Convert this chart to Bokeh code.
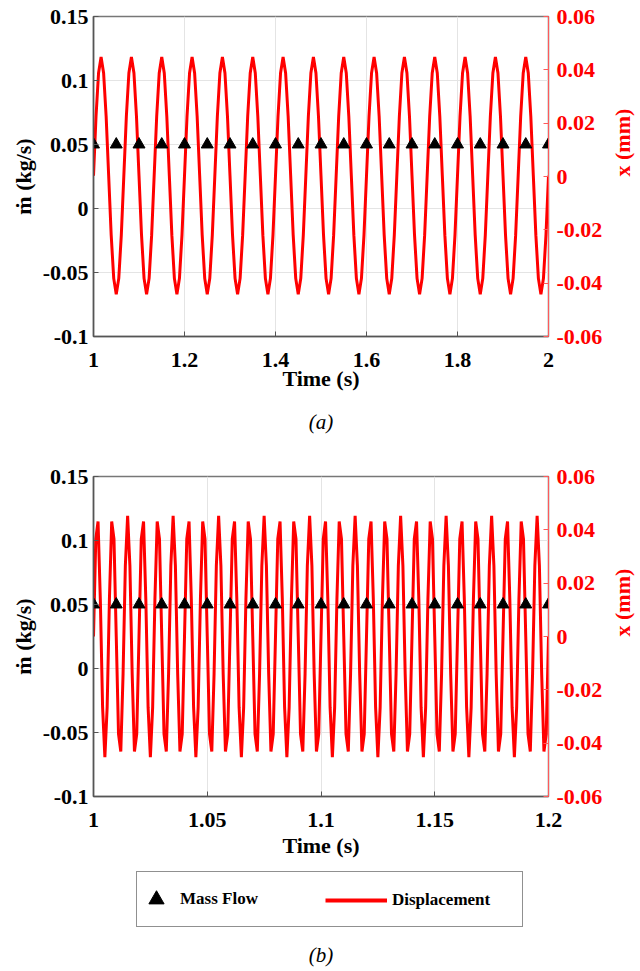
import numpy as np
from bokeh.plotting import figure
from bokeh.models import (Range1d, LinearAxis, FixedTicker, Title, Legend,
                          LegendItem)
from bokeh.layouts import column
from bokeh.embed import file_html
from bokeh.resources import INLINE

FONT = "Liberation Serif"

# ---------------- data ----------------
# panel (a): 1 s record
t_a_start, t_a_end = 1.0, 2.0
disp_a = [
    0.0003, 0.0226, 0.0388, 0.0448, 0.0388, 0.0226, 0.0003, -0.0220, -0.0382, -0.0442, -0.0382, -0.0220,
    0.0003, 0.0226, 0.0388, 0.0448, 0.0388, 0.0226, 0.0003, -0.0220, -0.0382, -0.0442, -0.0382, -0.0220,
    0.0003, 0.0226, 0.0388, 0.0448, 0.0388, 0.0226, 0.0003, -0.0220, -0.0382, -0.0442, -0.0382, -0.0220,
    0.0003, 0.0226, 0.0388, 0.0448, 0.0388, 0.0226, 0.0003, -0.0220, -0.0382, -0.0442, -0.0382, -0.0220,
    0.0003, 0.0226, 0.0388, 0.0448, 0.0388, 0.0226, 0.0003, -0.0220, -0.0382, -0.0442, -0.0382, -0.0220,
    0.0003, 0.0226, 0.0388, 0.0448, 0.0388, 0.0226, 0.0003, -0.0220, -0.0382, -0.0442, -0.0382, -0.0220,
    0.0003, 0.0226, 0.0388, 0.0448, 0.0388, 0.0226, 0.0003, -0.0220, -0.0382, -0.0442, -0.0382, -0.0220,
    0.0003, 0.0226, 0.0388, 0.0448, 0.0388, 0.0226, 0.0003, -0.0220, -0.0382, -0.0442, -0.0382, -0.0220,
    0.0003, 0.0226, 0.0388, 0.0448, 0.0388, 0.0226, 0.0003, -0.0220, -0.0382, -0.0442, -0.0382, -0.0220,
    0.0003, 0.0226, 0.0388, 0.0448, 0.0388, 0.0226, 0.0003, -0.0220, -0.0382, -0.0442, -0.0382, -0.0220,
    0.0003, 0.0226, 0.0388, 0.0448, 0.0388, 0.0226, 0.0003, -0.0220, -0.0382, -0.0442, -0.0382, -0.0220,
    0.0003, 0.0226, 0.0388, 0.0448, 0.0388, 0.0226, 0.0003, -0.0220, -0.0382, -0.0442, -0.0382, -0.0220,
    0.0003, 0.0226, 0.0388, 0.0448, 0.0388, 0.0226, 0.0003, -0.0220, -0.0382, -0.0442, -0.0382, -0.0220,
    0.0003, 0.0226, 0.0388, 0.0448, 0.0388, 0.0226, 0.0003, -0.0220, -0.0382, -0.0442, -0.0382, -0.0220,
    0.0003, 0.0226, 0.0388, 0.0448, 0.0388, 0.0226, 0.0003, -0.0220, -0.0382, -0.0442, -0.0382, -0.0220,
    0.0003,
]
mass_t_a = [1.00, 1.05, 1.10, 1.15, 1.20, 1.25, 1.30, 1.35, 1.40, 1.45, 1.50,
            1.55, 1.60, 1.65, 1.70, 1.75, 1.80, 1.85, 1.90, 1.95, 2.00]
mass_a = [0.05, 0.05, 0.05, 0.05, 0.05, 0.05, 0.05, 0.05, 0.05, 0.05, 0.05,
          0.05, 0.05, 0.05, 0.05, 0.05, 0.05, 0.05, 0.05, 0.05, 0.05]
xticks_a = [1.0, 1.2, 1.4, 1.6, 1.8, 2.0]
xlabels_a = ["1", "1.2", "1.4", "1.6", "1.8", "2"]

# panel (b): 0.2 s record (1 ms samples)
t_b_start, t_b_end = 1.0, 1.2
disp_b = [
    0.0, 0.0366, 0.0431, 0.0140, -0.0266, -0.0453, -0.0266, 0.0140, 0.0431, 0.0366,
    0.0, -0.0366, -0.0431, -0.0140, 0.0266, 0.0453, 0.0266, -0.0140, -0.0431, -0.0366,
    0.0, 0.0366, 0.0431, 0.0140, -0.0266, -0.0453, -0.0266, 0.0140, 0.0431, 0.0366,
    0.0, -0.0366, -0.0431, -0.0140, 0.0266, 0.0453, 0.0266, -0.0140, -0.0431, -0.0366,
    0.0, 0.0366, 0.0431, 0.0140, -0.0266, -0.0453, -0.0266, 0.0140, 0.0431, 0.0366,
    0.0, -0.0366, -0.0431, -0.0140, 0.0266, 0.0453, 0.0266, -0.0140, -0.0431, -0.0366,
    0.0, 0.0366, 0.0431, 0.0140, -0.0266, -0.0453, -0.0266, 0.0140, 0.0431, 0.0366,
    0.0, -0.0366, -0.0431, -0.0140, 0.0266, 0.0453, 0.0266, -0.0140, -0.0431, -0.0366,
    0.0, 0.0366, 0.0431, 0.0140, -0.0266, -0.0453, -0.0266, 0.0140, 0.0431, 0.0366,
    0.0, -0.0366, -0.0431, -0.0140, 0.0266, 0.0453, 0.0266, -0.0140, -0.0431, -0.0366,
    0.0, 0.0366, 0.0431, 0.0140, -0.0266, -0.0453, -0.0266, 0.0140, 0.0431, 0.0366,
    0.0, -0.0366, -0.0431, -0.0140, 0.0266, 0.0453, 0.0266, -0.0140, -0.0431, -0.0366,
    0.0, 0.0366, 0.0431, 0.0140, -0.0266, -0.0453, -0.0266, 0.0140, 0.0431, 0.0366,
    0.0, -0.0366, -0.0431, -0.0140, 0.0266, 0.0453, 0.0266, -0.0140, -0.0431, -0.0366,
    0.0, 0.0366, 0.0431, 0.0140, -0.0266, -0.0453, -0.0266, 0.0140, 0.0431, 0.0366,
    0.0, -0.0366, -0.0431, -0.0140, 0.0266, 0.0453, 0.0266, -0.0140, -0.0431, -0.0366,
    0.0, 0.0366, 0.0431, 0.0140, -0.0266, -0.0453, -0.0266, 0.0140, 0.0431, 0.0366,
    0.0, -0.0366, -0.0431, -0.0140, 0.0266, 0.0453, 0.0266, -0.0140, -0.0431, -0.0366,
    0.0, 0.0366, 0.0431, 0.0140, -0.0266, -0.0453, -0.0266, 0.0140, 0.0431, 0.0366,
    0.0, -0.0366, -0.0431, -0.0140, 0.0266, 0.0453, 0.0266, -0.0140, -0.0431, -0.0366,
    0.0,
]
mass_t_b = [1.00, 1.01, 1.02, 1.03, 1.04, 1.05, 1.06, 1.07, 1.08, 1.09, 1.10,
            1.11, 1.12, 1.13, 1.14, 1.15, 1.16, 1.17, 1.18, 1.19, 1.20]
mass_b = [0.05, 0.05, 0.05, 0.05, 0.05, 0.05, 0.05, 0.05, 0.05, 0.05, 0.05,
          0.05, 0.05, 0.05, 0.05, 0.05, 0.05, 0.05, 0.05, 0.05, 0.05]
xticks_b = [1.0, 1.05, 1.1, 1.15, 1.2]
xlabels_b = ["1", "1.05", "1.1", "1.15", "1.2"]

left_ticks = [-0.1, -0.05, 0.0, 0.05, 0.1, 0.15]
left_labels = ["-0.1", "-0.05", "0", "0.05", "0.1", "0.15"]
right_ticks = [-0.06, -0.04, -0.02, 0.0, 0.02, 0.04, 0.06]
right_labels = ["-0.06", "-0.04", "-0.02", "0", "0.02", "0.04", "0.06"]

RED = "#ff0000"
AXIS_GRAY = "#555555"
GRID = "#e4e4e4"


def style_axis(ax, color, label_color):
    ax.axis_line_color = color
    ax.axis_line_width = 1.5
    ax.major_tick_line_color = color
    ax.major_tick_in = 5
    ax.major_tick_out = 0
    ax.minor_tick_line_color = None
    ax.major_label_text_font = FONT
    ax.major_label_text_font_style = "bold"
    ax.major_label_text_font_size = "22px"
    ax.major_label_text_color = label_color
    ax.axis_label_text_font = FONT
    ax.axis_label_text_font_style = "bold"
    ax.axis_label_text_font_size = "22px"
    ax.axis_label_text_color = label_color


def make_panel(t0, t1, disp, mt, mv, xticks, xlabels, top, bottom, x_lab_standoff):
    p = figure(x_range=Range1d(t0, t1), y_range=Range1d(-0.1, 0.15),
               frame_width=455, frame_height=320,
               min_border_left=93, min_border_right=92,
               min_border_top=top, min_border_bottom=bottom,
               output_backend="svg", toolbar_location=None,
               background_fill_color="white", border_fill_color="white")
    p.extra_y_ranges = {"disp": Range1d(-0.06, 0.06)}
    p.outline_line_color = "#777777"
    p.outline_line_width = 1.5

    xa = p.xaxis[0]
    xa.ticker = FixedTicker(ticks=xticks)
    xa.major_label_overrides = {v: s for v, s in zip(xticks, xlabels)}
    style_axis(xa, AXIS_GRAY, "black")
    xa.axis_label = "Time (s)"
    xa.major_label_standoff = 16
    xa.axis_label_standoff = x_lab_standoff

    ya = p.yaxis[0]
    ya.ticker = FixedTicker(ticks=left_ticks)
    ya.major_label_overrides = {v: s for v, s in zip(left_ticks, left_labels)}
    style_axis(ya, AXIS_GRAY, "black")
    ya.axis_label = "ṁ (kg/s)"
    ya.major_label_standoff = 5
    ya.axis_label_standoff = 4

    ra = LinearAxis(y_range_name="disp", ticker=FixedTicker(ticks=right_ticks))
    ra.major_label_overrides = {v: s for v, s in zip(right_ticks, right_labels)}
    style_axis(ra, "#ff5a5a", RED)
    ra.axis_line_width = 1
    ra.axis_label = "x (mm)"
    ra.major_label_standoff = 8
    ra.axis_label_standoff = 17
    ra.axis_label_orientation = np.pi / 2
    p.add_layout(ra, "right")

    p.xgrid.ticker = FixedTicker(ticks=xticks)
    p.ygrid.ticker = FixedTicker(ticks=left_ticks)
    p.grid.grid_line_color = GRID
    p.grid.grid_line_width = 1

    t = np.linspace(t0, t1, len(disp))
    p.line(t, disp, y_range_name="disp", line_color=RED, line_width=3)
    p.scatter(mt, mv, marker="triangle", size=12, fill_color="black",
              line_color="black")
    return p


pa = make_panel(t_a_start, t_a_end, disp_a, mass_t_a, mass_a,
                xticks_a, xlabels_a, 16, 10, -4)
pa.add_layout(Title(text="(a)", align="center", text_font=FONT,
                    text_font_style="italic", text_font_size="21px",
                    text_color="black", standoff=28), "below")

pb = make_panel(t_b_start, t_b_end, disp_b, mass_t_b, mass_b,
                xticks_b, xlabels_b, 29, 5, 3)

# ---- legend strip (same borders as the panels so the column stays aligned) ----
pl = figure(x_range=Range1d(t_b_start, t_b_end), y_range=Range1d(1.0, 2.0),
            frame_width=455, frame_height=60,
            min_border_left=93, min_border_right=92,
            min_border_top=10, min_border_bottom=5,
            x_axis_location=None, y_axis_location=None,
            output_backend="svg", toolbar_location=None,
            background_fill_color="white", border_fill_color="white")
pl.grid.visible = False
pl.outline_line_color = None
# legend glyph sources (series (b); they lie outside this strip's visible range)
r_tri = pl.scatter(mass_t_b, mass_b, marker="triangle", size=12,
                   fill_color="black", line_color="black")
r_line = pl.line(np.linspace(t_b_start, t_b_end, len(disp_b)), disp_b,
                 line_color=RED, line_width=4)

common = dict(orientation="horizontal", padding=0, margin=0, spacing=0,
              glyph_height=54, label_height=54,
              label_text_font=FONT, label_text_font_style="bold",
              label_text_font_size="17px", label_text_color="black")
leg_box = Legend(items=[LegendItem(label="Mass Flow", renderers=[r_tri])],
                 location=(43, 3), glyph_width=38, label_standoff=5,
                 label_width=342, border_line_color="#222222",
                 border_line_width=1.5, background_fill_color="white",
                 background_fill_alpha=1.0, **common)
leg_disp = Legend(items=[LegendItem(label="Displacement", renderers=[r_line])],
                  location=(232, 3), glyph_width=62, label_standoff=5,
                  border_line_alpha=0, background_fill_alpha=0, **common)
pl.add_layout(leg_box, "center")
pl.add_layout(leg_disp, "center")
pl.add_layout(Title(text="(b)", align="center", text_font=FONT,
                    text_font_style="italic", text_font_size="21px",
                    text_color="black", standoff=21), "below")

layout = column(pa, pb, pl, spacing=0)
open("out.html", "w").write(file_html(layout, INLINE))
